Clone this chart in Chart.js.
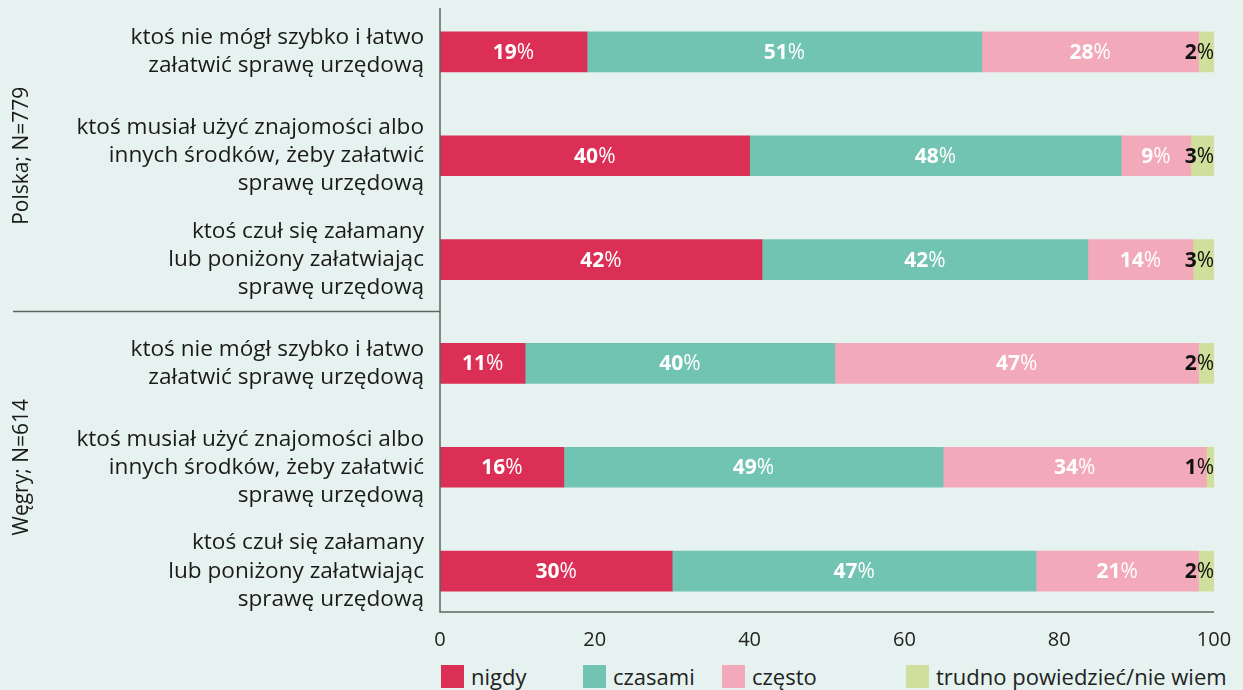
<!DOCTYPE html>
<html>
<head>
<meta charset="utf-8">
<script src="https://cdn.jsdelivr.net/npm/chart.js@4.4.0/dist/chart.umd.min.js"></script>
<style>
    html, body { margin: 0; padding: 0; background: #E6F2EF; }
    #wrap { width: 1243px; height: 650px; position: relative; }
    #legend {
        position: absolute; left: 441px; top: 664px;
        display: flex; font-family: "Open Sans"; font-size: 22px; color: #222;
    }
    #legend .item { display: flex; align-items: center; height: 24px; }
    #legend .item:nth-child(1) { width: 142px; }
    #legend .item:nth-child(2) { width: 139px; }
    #legend .item:nth-child(3) { width: 184px; }
    #legend .box { width: 23px; height: 23px; margin-right: 7px; }
</style>
</head>
<body>
<div id="wrap"><canvas id="chart"></canvas></div>
<div id="legend"></div>
<script>
// Rows: 3 for Poland, 3 for Hungary
const categories = [
    ["ktoś nie mógł szybko i łatwo", "załatwić sprawę urzędową"],
    ["ktoś musiał użyć znajomości albo", "innych środków, żeby załatwić", "sprawę urzędową"],
    ["ktoś czuł się załamany", "lub poniżony załatwiając", "sprawę urzędową"],
    ["ktoś nie mógł szybko i łatwo", "załatwić sprawę urzędową"],
    ["ktoś musiał użyć znajomości albo", "innych środków, żeby załatwić", "sprawę urzędową"],
    ["ktoś czuł się załamany", "lub poniżony załatwiając", "sprawę urzędową"]
];
const groups = ["Polska; N=779", "Węgry; N=614"];

const seriesNames = ["nigdy", "czasami", "często", "trudno powiedzieć/nie wiem"];
const nigdy   = [19, 40, 41.6, 11, 16, 30];
const czasami = [51, 48, 42.1, 40, 49, 47];
const czesto  = [28, 9, 13.6, 47, 34, 21];
const trudno  = [2, 3, 2.7, 2, 1, 2];

const xTicks = [0, 20, 40, 60, 80, 100];

const colors = ["#DC2F55", "#72C4B2", "#F2A9B9", "#D0E09C"];
const FONT = "Open Sans";

// Draw the percentage labels on the bars
const barLabels = {
    id: "barLabels",
    afterDatasetsDraw(chart) {
        const ctx = chart.ctx;
        ctx.save();
        ctx.textBaseline = "middle";
        chart.data.datasets.forEach((ds, di) => {
            const meta = chart.getDatasetMeta(di);
            const last = di === chart.data.datasets.length - 1;
            meta.data.forEach((bar, i) => {
                const num = String(Math.round(ds.data[i]));
                ctx.font = "bold 21px " + FONT;
                const w1 = ctx.measureText(num).width;
                ctx.font = "21px " + FONT;
                const w2 = ctx.measureText("%").width;
                let x;
                if (last) x = bar.x - w1 - w2;
                else x = (bar.x + bar.base) / 2 - (w1 + w2) / 2;
                ctx.fillStyle = last ? "#111" : "#fff";
                ctx.textAlign = "left";
                ctx.font = "bold 21px " + FONT;
                ctx.fillText(num, x, bar.y + 1);
                ctx.font = "21px " + FONT;
                ctx.fillText("%", x + w1, bar.y + 1);
            });
        });
        ctx.restore();
    }
};

// Axis lines, group separator and the rotated group names
const frame = {
    id: "frame",
    afterDraw(chart) {
        const ctx = chart.ctx;
        const a = chart.chartArea;
        const y = chart.scales.y;
        const top = a.top + 8, bottom = a.bottom - 11;
        ctx.save();
        ctx.strokeStyle = "#5f6462";
        ctx.lineWidth = 1.5;
        ctx.beginPath();
        ctx.moveTo(a.left, top);
        ctx.lineTo(a.left, bottom);
        ctx.lineTo(a.right, bottom);
        const sep = (y.getPixelForValue(2) + y.getPixelForValue(3)) / 2;
        ctx.moveTo(13, sep);
        ctx.lineTo(a.left, sep);
        ctx.stroke();

        ctx.fillStyle = "#1a1a1a";
        ctx.font = "21px " + FONT;
        ctx.textAlign = "center";
        ctx.textBaseline = "middle";
        groups.forEach((g, gi) => {
            const cy = (y.getPixelForValue(gi * 3) + y.getPixelForValue(gi * 3 + 2)) / 2;
            ctx.save();
            ctx.translate(22, cy);
            ctx.rotate(-Math.PI / 2);
            ctx.fillText(g, 0, 0);
            ctx.restore();
        });
        ctx.restore();
    }
};

const seriesData = [nigdy, czasami, czesto, trudno];

new Chart(document.getElementById("chart"), {
    type: "bar",
    data: {
        labels: categories,
        datasets: seriesNames.map((name, i) => ({
            label: name,
            data: seriesData[i],
            backgroundColor: colors[i],
            barThickness: 40
        }))
    },
    options: {
        indexAxis: "y",
        responsive: true,
        maintainAspectRatio: false,
        animation: false,
        layout: { padding: 0 },
        scales: {
            x: {
                stacked: true,
                min: 0,
                max: 100,
                grid: { display: false },
                border: { display: false },
                afterBuildTicks(scale) {
                    scale.ticks = xTicks.map(v => ({ value: v }));
                },
                afterFit(scale) {
                    scale.height = 27;
                    scale.paddingRight = 29;
                },
                ticks: {
                    padding: -3,
                    color: "#222",
                    font: { family: FONT, size: 20 }
                }
            },
            y: {
                stacked: true,
                grid: { display: false },
                border: { display: false },
                afterFit(scale) {
                    scale.width = 440;
                    scale.paddingTop = 0;
                    scale.paddingBottom = 0;
                },
                ticks: {
                    padding: 8,
                    color: "#1a1a1a",
                    font: { family: FONT, size: 22.6, lineHeight: 1.24 }
                }
            }
        },
        plugins: {
            legend: { display: false },
            tooltip: { enabled: false }
        }
    },
    plugins: [barLabels, frame]
});

// Legend in HTML, built from the series arrays
const legendEl = document.getElementById("legend");
seriesNames.forEach((name, i) => {
    const item = document.createElement("div");
    item.className = "item";
    item.innerHTML = `<span class="box" style="background:${colors[i]}"></span><span>${name}</span>`;
    legendEl.appendChild(item);
});
</script>
</body>
</html>
